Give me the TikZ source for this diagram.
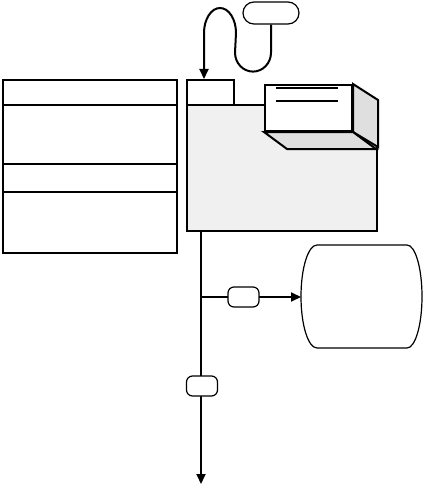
\documentclass[tikz,border=0pt]{standalone}
\usetikzlibrary{arrows.meta}

\begin{document}
\begin{tikzpicture}[x=1pt, y=-1pt, >={Triangle[length=10pt, width=9pt]},
    heavy/.style={line width=2pt},
    panel/.style={draw, heavy, inner sep=0pt, anchor=north west},
    pill/.style={draw, line width=1.2pt, fill=white, inner sep=0pt, rounded corners=6pt}]
    \useasboundingbox (0,0) rectangle (425,487);
    % left table
    \node[panel, minimum width=174pt, minimum height=173pt] (table) at (2,79) {};
    \foreach \y in {105,164,192}
        \draw[heavy] (table.west |- 0,\y) -- (table.east |- 0,\y);
    % folder
    \node[panel, fill=gray!12, minimum width=190pt, minimum height=126pt] (body) at (186,104) {};
    \node[panel, fill=white, minimum width=47pt, minimum height=25pt] (tab) at (186,79) {};
    % raised card
    \node[panel, fill=white, minimum width=87pt, minimum height=46pt] (card) at (264,84) {};
    \draw[heavy, fill=gray!25] (card.north east) -- ++(25,16) -- ++(0,47) -- (card.south east) -- cycle;
    \draw[heavy, fill=gray!25] (card.south west) -- ++(23,17) -- ++(89,0) -- (card.south east) -- cycle;
    \foreach \y in {88,101}
        \draw[heavy] (276,\y) -- (338,\y);
    % source and feed
    \node[pill, rounded corners=11pt, minimum width=56pt, minimum height=22pt] (src) at (271,13) {};
    \draw[heavy, ->] (src.south) -- ++(0,28)
        arc[start angle=0, end angle=180, x radius=18, y radius=19] -- (236,33)
        arc[start angle=0, end angle=-180, x radius=16, y radius=25] -- (204,0 |- tab.north);
    % store
    \draw[line width=1.2pt] (317,245) -- (407,245)
        arc[start angle=-90, end angle=90, x radius=15, y radius=51.5] -- (317,348)
        arc[start angle=90, end angle=270, x radius=16, y radius=51.5];
    \coordinate (store) at (301,297);
    % outlet
    \coordinate (split) at (201,297);
    \coordinate (out) at (201,484);
    \draw[heavy, ->] (201,0 |- body.south) -- (out);
    \draw[heavy, ->] (split) -- (store);
    \node[pill, minimum width=31pt, minimum height=20pt] (tapa) at (243.5,297) {};
    \node[pill, minimum width=31pt, minimum height=20pt] (tapb) at (202,386) {};
\end{tikzpicture}
\end{document}
